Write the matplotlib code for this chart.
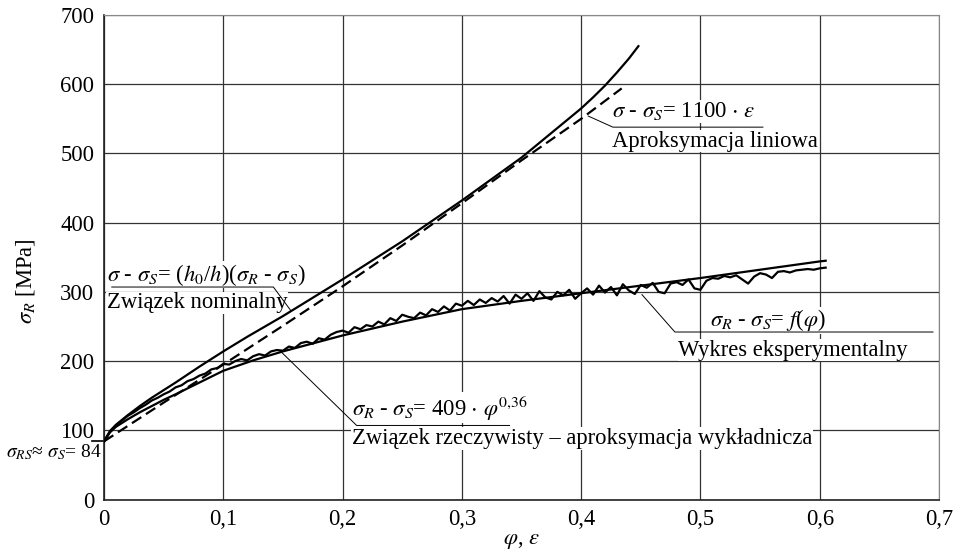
import numpy as np
import matplotlib
matplotlib.use("Agg")
import matplotlib.pyplot as plt

plt.rcParams['font.family'] = ['Liberation Serif', 'DejaVu Serif']
plt.rcParams['mathtext.fontset'] = 'stix'
plt.rcParams['lines.scale_dashes'] = False

# nominal relation (solid, upper curve)
phi_nom = [0, 0.005, 0.01, 0.02, 0.03, 0.04, 0.05, 0.06, 0.08, 0.1, 0.12, 0.15,
           0.2, 0.25, 0.3, 0.35, 0.4, 0.41, 0.42, 0.43, 0.44, 0.448]
sig_nom = [84, 99, 108, 122, 135, 147, 158, 169, 192, 214, 235, 265,
           318, 373, 432, 494, 565, 581, 598, 617, 637, 655]

# linear approximation (dashed)
eps_lin = [0, 0.05, 0.1, 0.15, 0.2, 0.25, 0.3, 0.35, 0.4, 0.434]
sig_lin = [84, 140, 195, 251, 308, 367, 428, 490, 550, 594]

# power-law fit (solid, lower curve)
phi_fit = [0, 0.005, 0.01, 0.02, 0.03, 0.04, 0.05, 0.06, 0.08, 0.1, 0.125, 0.15,
           0.2, 0.25, 0.3, 0.35, 0.4, 0.45, 0.5, 0.55, 0.6, 0.605]
sig_fit = [84, 97, 105, 116, 126, 135, 144, 152, 169, 186, 201, 214,
           237, 257, 275, 287, 298, 309, 320, 332, 344, 345]

# experimental curve, step 0.005 from 0 to 0.605
sig_exp = [84, 98, 107, 114, 121, 126, 132, 137, 143, 147,
           152, 156, 162, 165, 171, 174, 179, 182, 188, 190, 196,
           195, 200, 203, 201, 207, 210, 208, 214, 216, 215,
           221, 219, 226, 228, 225, 233, 231, 238, 242, 244,
           241, 249, 246, 252, 250, 257, 253, 262, 258, 267,
           264, 262, 270, 266, 275, 271, 279, 273, 283, 280,
           287, 281, 289, 284, 291, 286, 294, 283, 296, 290,
           298, 287, 301, 292, 289, 300, 295, 303, 290, 298,
           305, 296, 309, 299, 307, 295, 311, 302, 297, 310,
           306, 313, 300, 298, 312, 314, 310, 318, 305, 303,
           316, 320, 319, 323, 321, 324, 318, 312, 322, 327,
           325, 320, 329, 330, 328, 331, 332, 333, 332, 334,
           335]
phi_exp = np.arange(len(sig_exp)) * 0.005

fig = plt.figure(figsize=(9.56, 5.5), dpi=100)
ax = fig.add_axes([0.1088, 0.0918, 0.8734, 0.8809])

fs = 16.3
ax.plot(phi_exp, sig_exp, color='black', lw=1.6, zorder=3)
ax.plot(phi_fit, sig_fit, color='black', lw=1.6, zorder=3)
ax.plot(phi_nom, sig_nom, color='black', lw=1.6, zorder=3)
ax.plot(eps_lin, sig_lin, color='black', lw=1.6, dashes=(8, 4), zorder=3)

ax.set_xlim(0, 0.7)
ax.set_ylim(0, 700)
ax.set_xticks(np.arange(0, 0.71, 0.1))
ax.set_xticklabels(['0', '0,1', '0,2', '0,3', '0,4', '0,5', '0,6', '0,7'])
ax.set_yticks(np.arange(0, 701, 100))
ax.tick_params(length=0, labelsize=fs, pad=7)
ax.grid(True, color='#333333', lw=0.9)
ax.set_axisbelow(True)
for s in ['top', 'right']:
    ax.spines[s].set_color('#888888')
for s in ['left', 'bottom']:
    ax.spines[s].set_color('#222222')
    ax.spines[s].set_linewidth(1.2)

ax.set_xlabel(r'$\varphi$, $\varepsilon$', fontsize=fs)
ax.xaxis.set_label_coords(0.5, -0.062)
ax.set_ylabel(r'$\sigma_R$ [MPa]', fontsize=fs)
ax.yaxis.set_label_coords(-0.08, 0.45)

box = dict(facecolor='white', edgecolor='none', pad=0.5)
thin = dict(color='black', lw=0.7, zorder=2.6)

# nominal relation label
ax.text(0.0025, 316, r'$\sigma$ - $\sigma_S$= ($h_0$/$h$)($\sigma_R$ - $\sigma_S$)',
        fontsize=fs, va='baseline', bbox=box, zorder=2.5)
ax.text(0.0025, 276, 'Związek nominalny', fontsize=fs, va='baseline', bbox=box, zorder=2.5)
ax.plot([0.0065, 0.142, 0.157], [307, 307, 272], **thin)

# linear approximation label
ax.text(0.4255, 552, r'$\sigma$ - $\sigma_S$= 1100 $\cdot$ $\varepsilon$',
        fontsize=fs, va='baseline', bbox=box, zorder=2.5)
ax.text(0.4255, 510, 'Aproksymacja liniowa', fontsize=fs, va='baseline', bbox=box, zorder=2.5)
ax.plot([0.406, 0.4266, 0.5524], [554, 538, 538], **thin)

# experimental label
ax.text(0.508, 250, r'$\sigma_R$ - $\sigma_S$= $f$($\varphi$)',
        fontsize=fs, va='baseline', bbox=box, zorder=2.5)
ax.text(0.4814, 208, 'Wykres eksperymentalny', fontsize=fs, va='baseline', bbox=box, zorder=2.5)
ax.plot([0.451, 0.4786, 0.695], [296, 242, 242], **thin)

# fit label
ax.text(0.2076, 121, r'$\sigma_R$ - $\sigma_S$= 409 $\cdot$ $\varphi^{0{,}36}$',
        fontsize=fs, va='baseline', bbox=box, zorder=2.5)
ax.text(0.2076, 80, 'Związek rzeczywisty – aproksymacja wykładnicza',
        fontsize=fs, va='baseline', bbox=box, zorder=2.5)
ax.plot([0.1475, 0.2118, 0.340], [215, 107, 107], **thin)

# yield stress mark
ax.plot([-0.0104, 0], [84, 84], color='black', lw=1.2, clip_on=False)
ax.text(-0.002, 61, r'$\sigma_{RS}$≈ $\sigma_S$= 84', fontsize=14, ha='right',
        va='baseline', clip_on=False)

fig.savefig('out.png', dpi=100)
